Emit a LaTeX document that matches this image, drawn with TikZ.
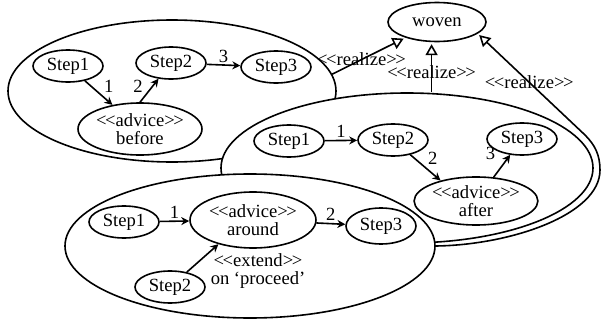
\documentclass[tikz,border=0pt]{standalone}
\usepackage{fontspec}
\setmainfont{Liberation Serif}
\usetikzlibrary{shapes.geometric,arrows.meta}
\newcommand{\stereo}[1]{<\kern-.08em<#1>\kern-.08em>}
\tikzset{
  stepnode/.style={draw,ellipse,inner sep=0pt,minimum width=35pt,minimum height=16pt},
  advnode/.style={draw,ellipse,inner sep=0pt,align=center,minimum width=62pt,minimum height=26pt},
  grp/.style={draw,ellipse,fill=white,inner sep=0pt},
  flow/.style={->,>={Stealth[length=4pt,width=4pt]}},
  realize/.style={-{Triangle[open,length=5.5pt,width=6pt]},shorten >=1pt},
  lbl/.style={inner sep=1pt}
}
\begin{document}
\begin{tikzpicture}[x=0.5pt,y=-0.5pt,line width=0.8pt,font=\fontsize{9.3}{8.8}\selectfont]
  \useasboundingbox (0,0) rectangle (602,322);
  % before
  \node[grp,minimum width=164pt,minimum height=71pt] (grpB) at (172,91) {};
  \node[stepnode] (b1) at (68,66) {Step1};
  \node[stepnode] (b2) at (171,63) {Step2};
  \node[stepnode] (b3) at (276,67) {Step3};
  \node[advnode] (adB) at (140,129) {\stereo{advice}\\before};
  \draw[flow] (b1) -- node[lbl,pos=.6,above right] {1} (adB);
  \draw[flow] (adB.north) -- node[lbl,pos=.3,above left] {2} (b2);
  \draw[flow] (b2) -- node[lbl,above] {3} (b3);
  % after
  \node[grp,minimum width=186pt,minimum height=75pt] (grpA) at (407,168) {};
  \node[stepnode] (a1) at (289,141) {Step1};
  \node[stepnode] (a2) at (393,140) {Step2};
  \node[stepnode] (a3) at (522,139) {Step3};
  \node[advnode,minimum width=61pt,minimum height=24pt] (adA) at (476,201) {\stereo{advice}\\after};
  \draw[flow] (a1) -- node[lbl,above] {1} (a2);
  \draw[flow] (a2) -- node[lbl,above right] {2} (adA.150);
  \draw[flow] (adA) -- node[lbl,above left=2pt] {3} (a3);
  % around
  \node[grp,minimum width=185pt,minimum height=72pt] (grpR) at (250,246) {};
  \node[stepnode] (r1) at (124,222) {Step1};
  \node[stepnode] (r2) at (170,287) {Step2};
  \node[stepnode,minimum height=18pt] (r3) at (381,226) {Step3};
  \node[advnode,minimum width=63pt,minimum height=28pt] (adR) at (253,220) {\stereo{advice}\\around};
  \draw[flow] (r1) -- node[lbl,above] {1} (adR);
  \draw[flow] (adR) -- node[lbl,above] {2} (r3);
  \draw[flow] (r2) -- (adR.215);
  \node[lbl,align=center] (ext) at (258,271) {\stereo{extend}\\on `proceed'};
  % woven
  \node[draw,ellipse,inner sep=0pt,minimum width=49pt,minimum height=19.5pt] (woven) at (437,22) {woven};
  \draw[realize] (grpB.6) -- node[lbl,pos=.4] {\stereo{realize}} (woven);
  \draw[realize] (grpA.north -| woven.255) -- node[lbl,pos=.4] {\stereo{realize}} (woven.255);
  \draw[realize] (grpR.east) .. controls (510,245) and (600,215) .. (600,170)
    .. controls (600,155) and (595,145) .. (585,135)
    -- node[lbl,pos=.52] {\stereo{realize}} (woven.-16);
\end{tikzpicture}
\end{document}
